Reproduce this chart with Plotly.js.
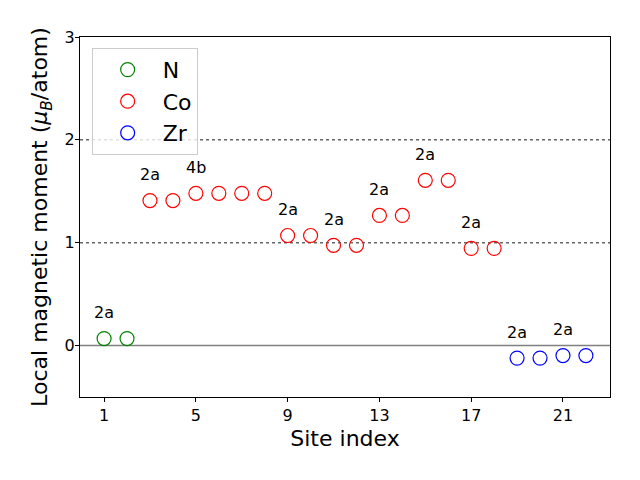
<!DOCTYPE html>
<html>
<head>
<meta charset="utf-8">
<script src="https://cdn.plot.ly/plotly-3.0.1.min.js"></script>
<style>
  body { margin: 0; }
  #chart { width: 640px; height: 480px; }
</style>
</head>
<body>
<div id="chart"></div>
<script>
// site moments
const nSites = [1, 2];
const nMoments = [0.068, 0.068];

const coSites = [3, 4, 5, 6, 7, 8, 9, 10, 11, 12, 13, 14, 15, 16, 17, 18];
const coMoments = [1.41, 1.41, 1.48, 1.48, 1.48, 1.48, 1.07, 1.07, 0.975, 0.975, 1.265, 1.265, 1.607, 1.607, 0.945, 0.945];

const zrSites = [19, 20, 21, 22];
const zrMoments = [-0.122, -0.122, -0.097, -0.097];

// wyckoff labels, placed above the first site of each group
const labelSites = [1, 3, 5, 9, 11, 13, 15, 17, 19, 21];
const labelMoments = [0.068, 1.41, 1.48, 1.07, 0.975, 1.265, 1.607, 0.945, -0.122, -0.097];
const labelTexts = ["2a", "2a", "4b", "2a", "2a", "2a", "2a", "2a", "2a", "2a"];

const refLevels = [1, 2];

function series(name, x, y, color) {
  return {
    x: x,
    y: y,
    name: name,
    type: "scatter",
    mode: "markers",
    marker: {
      symbol: "circle-open",
      size: 14,
      color: color,
      line: { color: color, width: 1.2 },
    },
  };
}

const data = [
  series("N", nSites, nMoments, "green"),
  series("Co", coSites, coMoments, "red"),
  series("Zr", zrSites, zrMoments, "blue"),
];

const shapes = refLevels.map((v) => ({
  type: "line",
  xref: "paper",
  x0: 0,
  x1: 1,
  y0: v,
  y1: v,
  layer: "below",
  line: { color: "#666", width: 1.5, dash: "dot" },
}));
shapes.push({
  type: "line",
  xref: "paper",
  x0: 0,
  x1: 1,
  y0: 0,
  y1: 0,
  layer: "below",
  line: { color: "gray", width: 1.5 },
});

const annotations = labelSites.map((s, i) => ({
  x: s,
  y: labelMoments[i] + 0.25,
  text: labelTexts[i],
  showarrow: false,
  xanchor: "center",
  yanchor: "middle",
  font: { size: 16, color: "black" },
}));

const font = "DejaVu Sans, sans-serif";

const layout = {
  width: 640,
  height: 480,
  margin: { l: 80, r: 30, t: 37, b: 83 },
  paper_bgcolor: "white",
  plot_bgcolor: "white",
  font: { family: font, color: "black", size: 16 },
  showlegend: true,
  legend: {
    x: 0.022,
    y: 0.97,
    xanchor: "left",
    yanchor: "top",
    bgcolor: "rgba(255,255,255,0.8)",
    bordercolor: "#ccc",
    borderwidth: 1,
    font: { size: 22 },
    tracegroupgap: 0,
    itemwidth: 60,
  },
  xaxis: {
    range: [-0.05, 23.05],
    tickvals: [1, 5, 9, 13, 17, 21],
    showgrid: false,
    zeroline: false,
    showline: true,
    mirror: true,
    linecolor: "black",
    linewidth: 1,
    ticks: "outside",
    ticklen: 4,
    tickcolor: "black",
    tickfont: { size: 16 },
    title: { text: "Site index", font: { size: 22 }, standoff: 6 },
  },
  yaxis: {
    range: [-0.5, 3],
    tickvals: [0, 1, 2, 3],
    showgrid: false,
    zeroline: false,
    showline: true,
    mirror: true,
    linecolor: "black",
    linewidth: 1,
    ticks: "outside",
    ticklen: 4,
    tickcolor: "black",
    tickfont: { size: 16 },
    ticklabelstandoff: -3,
    title: {
      text: "Local magnetic moment (<i>μ</i><sub><i>B</i></sub>/atom)",
      font: { size: 22 },
      standoff: 10,
    },
  },
  shapes: shapes,
  annotations: annotations,
};

Plotly.newPlot("chart", data, layout, { displayModeBar: false, staticPlot: true });
</script>
</body>
</html>
